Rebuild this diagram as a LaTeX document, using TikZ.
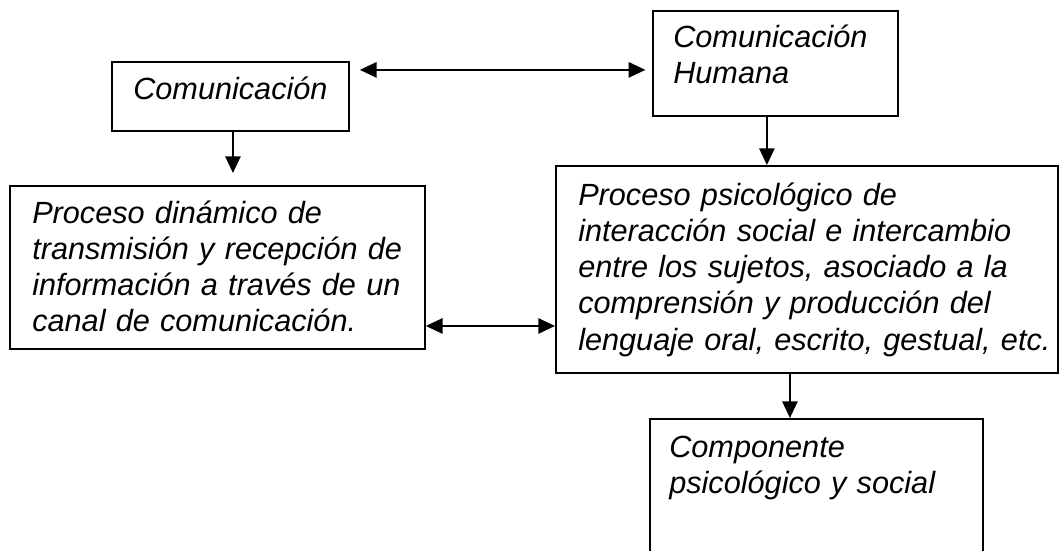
\documentclass[tikz,border=0pt]{standalone}
\usepackage{fontspec}
\setmainfont{Liberation Sans}
\usetikzlibrary{arrows.meta}
\begin{document}
\begin{tikzpicture}[x=0.75pt,y=-0.75pt,
  box/.style={draw, line width=1.4pt, inner sep=0pt, anchor=north west},
  txt/.style={anchor=base west, inner sep=0pt, align=left, text width=400pt,
    font=\fontsize{23}{27.2}\selectfont\itshape},
  arr/.style={line width=1.3pt, -{Triangle[length=12.5pt,width=11.5pt]}},
  darr/.style={line width=1.3pt, {Triangle[length=12.5pt,width=11.5pt]}-{Triangle[length=12.5pt,width=11.5pt]}}]
\clip (0,0) rectangle (1063,550);
% boxes
\node[box, minimum width=177.75pt, minimum height=51.75pt] (b1) at (111,61) {};
\node[box, minimum width=183.75pt, minimum height=78.75pt] (b2) at (652,10) {};
\node[box, minimum width=311.25pt, minimum height=122.25pt] (b3) at (9,185) {};
\node[box, minimum width=376.5pt, minimum height=155.25pt] (b4) at (555,165) {};
\node[box, minimum width=249.75pt, minimum height=106.5pt] (b5) at (649,418) {};
% texts
\node[txt] (t1) at (133,99) {Comunicación};
\node[txt] (t2) at (673,47) {Comunicación\\Humana};
\node[txt] (t3) at (32,223) {Proceso dinámico de\\transmisión y recepción de\\información a través de un\\canal de comunicación.};
\node[txt] (t4) at (578,205) {Proceso psicológico de\\interacción social e intercambio\\entre los sujetos, asociado a la\\comprensión y producción del\\lenguaje oral, escrito, gestual, etc.};
\node[txt] (t5) at (669,457) {Componente\\psicológico y social};
% connectors
\draw[arr, shorten >=9pt] ([xshift=1.9pt]b1.south) -- ([xshift=1.9pt]b1.south |- b3.north);
\draw[arr] ([xshift=-6.4pt]b2.south) -- ([xshift=-6.4pt]b2.south |- b4.north);
\draw[arr] ([xshift=-12.75pt]b4.south) -- ([xshift=-12.75pt]b4.south |- b5.north);
\draw[darr, shorten <=7.5pt, shorten >=5pt] ([yshift=19.9pt]b1.east) -- ([yshift=19.9pt]b1.east -| b2.west);
\draw[darr] ([yshift=-43.9pt]b3.east) -- ([yshift=-43.9pt]b3.east -| b4.west);
\end{tikzpicture}
\end{document}
